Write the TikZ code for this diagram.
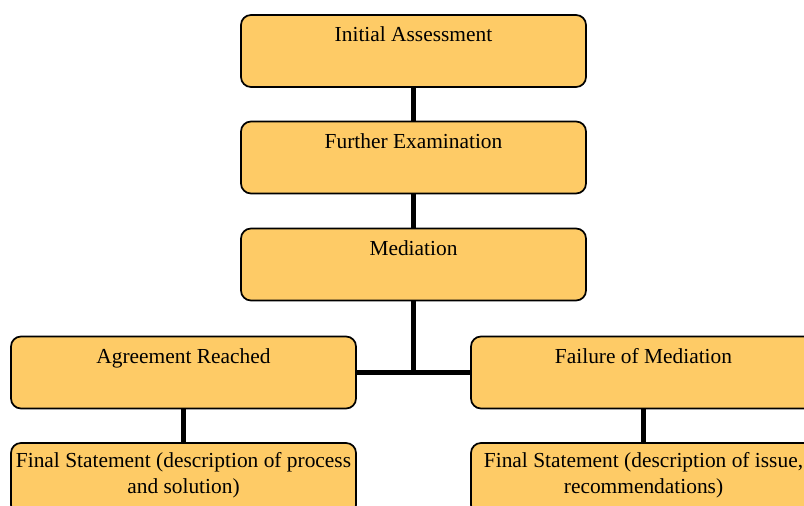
\documentclass[tikz,border=0pt]{standalone}
\usepackage{fontspec}
\setmainfont{Liberation Serif}
\usetikzlibrary{positioning}

\definecolor{stepfill}{RGB}{254,203,102}

\tikzset{
  stage/.style={draw, line width=1.3pt, rounded corners=7.5pt, fill=stepfill,
    minimum width=258.75pt, minimum height=54pt, inner sep=0pt},
  caption/.style={draw=none, inner sep=0pt, align=center,
    font=\fontsize{16.05}{19.5}\selectfont},
  link/.style={line width=4pt}
}

\begin{document}
\begin{tikzpicture}[x=0.75pt, y=-0.75pt]

% picture frame (boxes on the right and bottom run past the edge)
\clip (0, 0) rectangle (804, 506);
\fill[white] (0, 0) rectangle (804, 506);

% Main chain
\node[stage] (init) at (413.5, 51) {};
\node[stage] (further) at (413.5, 157.5) {};
\node[stage] (mediation) at (413.5, 264.5) {};

% Two outcomes
\node[stage] (agree) at (183.5, 372.5) {};
\node[stage] (failure) at (643.5, 372.5) {};

% Final statements
\node[stage] (finalA) at (183.5, 479) {};
\node[stage] (finalF) at (643.5, 479) {};

% Texts
\node[caption, below=9.5pt of init.north] (initT) {Initial Assessment};
\node[caption, below=9.5pt of further.north] (furtherT) {Further Examination};
\node[caption, below=9.5pt of mediation.north] (mediationT) {Mediation};
\node[caption, below=9.5pt of agree.north] (agreeT) {Agreement Reached};
\node[caption, below=9.5pt of failure.north] (failureT) {Failure of Mediation};
\node[caption, below=7.5pt of finalA.north] (finalAT) {Final Statement (description of process\\and solution)};
\node[caption, below=7.5pt of finalF.north] (finalFT) {Final Statement (description of issue,\\recommendations)};

% Connectors
\coordinate (fork) at (mediation.south |- agree.east);
\draw[link] (init) -- (further);
\draw[link] (further) -- (mediation);
\draw[link] (mediation) -- (fork);
\draw[link] (agree) -- (failure);
\draw[link] (agree) -- (finalA);
\draw[link] (failure) -- (finalF);

\end{tikzpicture}
\end{document}
